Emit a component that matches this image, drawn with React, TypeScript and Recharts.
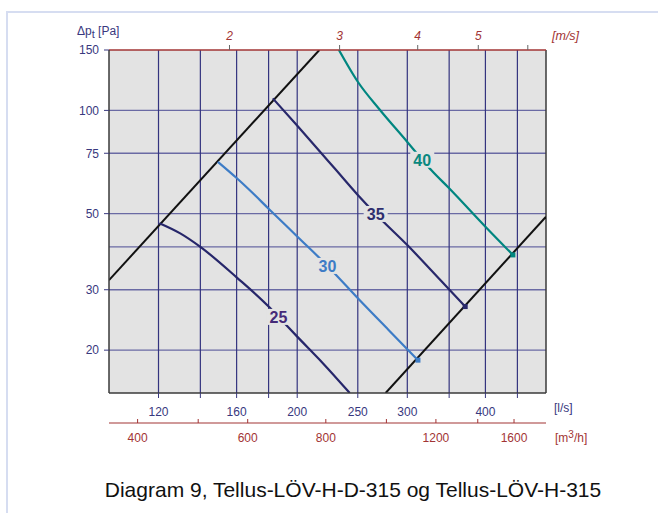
import React from "react";
import {
  ComposedChart,
  Line,
  XAxis,
  YAxis,
  CartesianGrid,
  ReferenceLine,
  LabelList,
} from "recharts";

// duct Ø315: 1 m/s = 77.93 l/s, 1 m3/h = 1/3.6 l/s
const LS_PER_MS = 77.93;
const LS_PER_M3H = 1 / 3.6;

const flowTicks = [120, 140, 160, 180, 200, 250, 300, 350, 400, 450];
const flowLabels = [120, 160, 200, 250, 300, 400];
const airTicks = [400, 500, 600, 800, 1000, 1200, 1400, 1600];
const airLabels = [400, 600, 800, 1200, 1600];
const speedTicks = [2, 3, 4, 5, 6];
const speedLabels = [2, 3, 4, 5];
const pressureTicks = [20, 30, 50, 75, 100, 150];
const pressureGrid = [20, 30, 40, 50, 75, 100];

// working range limits (l/s, Pa)
const limitLow = [
  { q: 100, p: 32 },
  { q: 217, p: 150 },
];
const limitHigh = [
  { q: 277, p: 15 },
  { q: 500, p: 49 },
];

// sound level curves, dB(A)
const sound25 = [
  { q: 120.4, p: 46.9 },
  { q: 130, p: 43.8 },
  { q: 140, p: 40.0 },
  { q: 160, p: 32.6 },
  { q: 180, p: 26.8 },
  { q: 186.7, p: 25.0, tag: "25" },
  { q: 200, p: 21.9 },
  { q: 220, p: 18.3 },
  { q: 242.7, p: 15 },
];
const sound30 = [
  { q: 149.3, p: 70.8 },
  { q: 160, p: 63.5 },
  { q: 167.8, p: 58.6 },
  { q: 180, p: 51.7 },
  { q: 200, p: 42.9 },
  { q: 223.6, p: 35.2, tag: "30" },
  { q: 251.6, p: 28.0 },
  { q: 280, p: 22.9 },
  { q: 312, p: 18.7 },
];
const sound35 = [
  { q: 182.8, p: 108.4 },
  { q: 199.6, p: 90.6 },
  { q: 229.5, p: 67.8 },
  { q: 250, p: 56.7 },
  { q: 267, p: 49.9, tag: "35" },
  { q: 300, p: 40.5 },
  { q: 340, p: 31.8 },
  { q: 371.3, p: 26.8 },
];
const sound40 = [
  { q: 233.2, p: 150 },
  { q: 250, p: 121.2 },
  { q: 270.9, p: 100.6 },
  { q: 300, p: 80.9 },
  { q: 317, p: 71.8, tag: "40" },
  { q: 327.6, p: 67.0 },
  { q: 350, p: 59.3 },
  { q: 400, p: 45.8 },
  { q: 442.6, p: 37.9 },
];

const FONT = '"Liberation Sans", Arial, Helvetica, sans-serif';
const NAVY = "#38387e";
const RED = "#a23434";
const FRAME = "#3a3a3a";
const PLOT_BG = "#e3e3e3";

const curves = [
  { data: sound25, color: "#26266a", labelColor: "#452a78", marker: false },
  { data: sound30, color: "#3d7cc6", labelColor: "#3d7cc6", marker: true },
  { data: sound35, color: "#28286b", labelColor: "#2e2e6e", marker: true },
  { data: sound40, color: "#008680", labelColor: "#0a887f", marker: true },
];

const tagLabel = (color: string) => (props: any) => {
  const { x, y, value } = props;
  if (!value) return null;
  return (
    <g>
      <rect x={x - 12} y={y - 8} width={24} height={16} fill={PLOT_BG} />
      <text
        x={x}
        y={y}
        dy="0.36em"
        textAnchor="middle"
        fill={color}
        fontSize={16}
        fontWeight="bold"
      >
        {value}
      </text>
    </g>
  );
};

const endMarker = (color: string, count: number, show: boolean) => (props: any) => {
  const { cx, cy, index } = props;
  if (!show || index !== count - 1) return <g key={`m-${index}`} />;
  return (
    <rect key={`m-${index}`} x={cx - 2.5} y={cy - 2.5} width={5} height={5} fill={color} />
  );
};

const AirTick = (props: any) => {
  const { x, y, payload } = props;
  const m3h = Math.round(payload.value / LS_PER_M3H);
  return (
    <g>
      <line x1={x} x2={x} y1={y - 10} y2={y - 14} stroke={RED} strokeWidth={1} />
      {airLabels.includes(m3h) && (
        <text x={x} y={y} dy="0.71em" textAnchor="middle" fill={RED} fontSize={12}>
          {m3h}
        </text>
      )}
    </g>
  );
};

export default function App() {
  return (
    <div
      style={{
        position: "absolute",
        left: 0,
        top: 0,
        width: 658,
        height: 513,
        overflow: "hidden",
        background: "#fff",
        fontFamily: FONT,
      }}
    >
      <div
        style={{
          position: "absolute",
          left: 6,
          top: 11,
          width: 700,
          height: 600,
          border: "2px solid #d6ddf1",
        }}
      />
      <div style={{ position: "absolute", left: 0, top: 0 }}>
        <ComposedChart
          width={658}
          height={513}
          margin={{ top: 20, right: 112, bottom: 40, left: 9 }}
        >
          <CartesianGrid
            xAxisId="a_flow"
            yAxisId="p"
            fill={PLOT_BG}
            vertical={false}
            horizontalValues={pressureGrid}
            stroke="#6a6aa4"
            strokeWidth={1.3}
          />
          <CartesianGrid
            xAxisId="a_flow"
            yAxisId="p"
            horizontal={false}
            verticalValues={flowTicks}
            stroke="#34347f"
            strokeWidth={1.2}
          />
          <XAxis
            xAxisId="speed"
            dataKey="q"
            orientation="top"
            type="number"
            scale="log"
            domain={[100, 500]}
            allowDataOverflow
            ticks={speedTicks.map((v) => v * LS_PER_MS)}
            interval={0}
            tickFormatter={(v: number) => {
              const s = Math.round(v / LS_PER_MS);
              return speedLabels.includes(s) ? String(s) : "";
            }}
            height={30}
            tickSize={5}
            tickMargin={5}
            axisLine={{ stroke: RED, strokeWidth: 1.5 }}
            tickLine={{ stroke: "#666" }}
            tick={{ fill: RED, fontSize: 12, fontStyle: "italic" }}
          />
          <XAxis
            xAxisId="a_flow"
            dataKey="q"
            orientation="bottom"
            type="number"
            scale="log"
            domain={[100, 500]}
            allowDataOverflow
            ticks={flowTicks}
            interval={0}
            tickFormatter={(v: number) => (flowLabels.includes(v) ? String(v) : "")}
            height={30}
            tickSize={5}
            tickMargin={9}
            axisLine={{ stroke: FRAME, strokeWidth: 1.5 }}
            tickLine={{ stroke: NAVY }}
            tick={{ fill: NAVY, fontSize: 12 }}
          />
          <XAxis
            xAxisId="b_air"
            dataKey="q"
            orientation="bottom"
            type="number"
            scale="log"
            domain={[100, 500]}
            allowDataOverflow
            ticks={airTicks.map((v) => v * LS_PER_M3H)}
            interval={0}
            height={50}
            tickSize={0}
            tickMargin={10}
            tickLine={false}
            axisLine={{ stroke: RED, strokeWidth: 1.2 }}
            tick={<AirTick />}
          />
          <YAxis
            yAxisId="p"
            type="number"
            scale="log"
            domain={[15, 150]}
            allowDataOverflow
            ticks={pressureTicks}
            interval={0}
            width={100}
            tickSize={5}
            tickMargin={5}
            axisLine={{ stroke: FRAME, strokeWidth: 1.5 }}
            tickLine={{ stroke: NAVY }}
            tick={{ fill: NAVY, fontSize: 12 }}
          />
          <ReferenceLine
            xAxisId="a_flow"
            yAxisId="p"
            x={500}
            stroke={FRAME}
            strokeWidth={1.5}
          />
          <Line
            xAxisId="speed"
            yAxisId="p"
            data={limitLow}
            dataKey="p"
            type="linear"
            stroke="#111"
            strokeWidth={2}
            dot={false}
            activeDot={false}
            isAnimationActive={false}
          />
          <Line
            xAxisId="b_air"
            yAxisId="p"
            data={limitHigh}
            dataKey="p"
            type="linear"
            stroke="#111"
            strokeWidth={2}
            dot={false}
            activeDot={false}
            isAnimationActive={false}
          />
          {curves.map((c, i) => (
            <Line
              key={i}
              xAxisId="a_flow"
              yAxisId="p"
              data={c.data}
              dataKey="p"
              type="monotone"
              stroke={c.color}
              strokeWidth={2.2}
              dot={endMarker(c.color, c.data.length, c.marker)}
              activeDot={false}
              isAnimationActive={false}
            >
              <LabelList dataKey="tag" content={tagLabel(c.labelColor)} />
            </Line>
          ))}
        </ComposedChart>
      </div>
      <svg
        width={658}
        height={513}
        style={{ position: "absolute", left: 0, top: 0, fontFamily: FONT }}
      >
        <text x={77} y={35} fill={NAVY} fontSize={12}>
          Δp
          <tspan dy={3} fontSize={11}>t</tspan>
          <tspan dy={-3}> [Pa]</tspan>
        </text>
        <text x={552} y={40} fill={RED} fontSize={12.5} fontStyle="italic">
          [m/s]
        </text>
        <text x={554} y={412} fill={NAVY} fontSize={12}>
          [l/s]
        </text>
        <text x={555} y={442} fill={RED} fontSize={12}>
          [m<tspan dy={-4} fontSize={10}>3</tspan>
          <tspan dy={4}>/h]</tspan>
        </text>
        <text x={353} y={497} textAnchor="middle" fill="#111" fontSize={21}>
          Diagram 9, Tellus-LÖV-H-D-315 og Tellus-LÖV-H-315
        </text>
      </svg>
    </div>
  );
}
